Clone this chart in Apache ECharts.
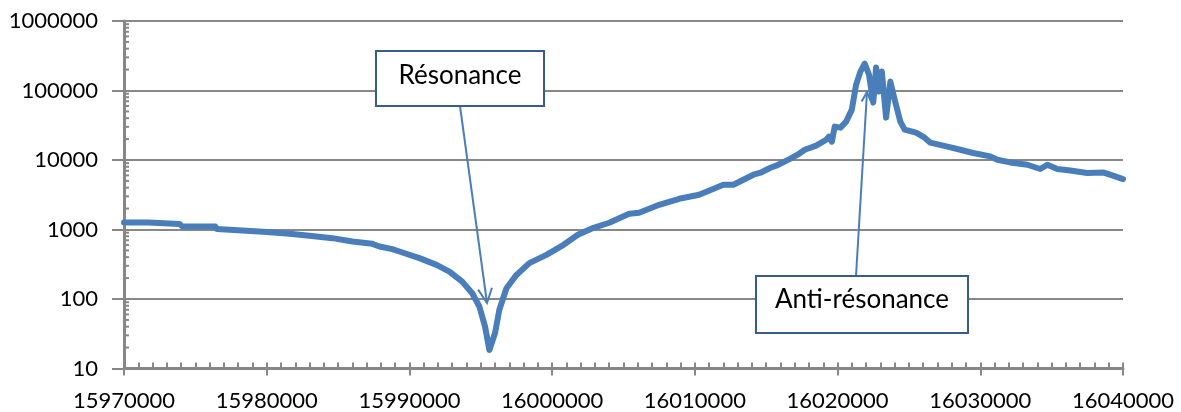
<!DOCTYPE html>
<html><head><meta charset="utf-8">
<script src="https://cdn.jsdelivr.net/npm/echarts@6/dist/echarts.min.js"></script>
<style>html,body{margin:0;padding:0;background:#fff}#c{width:1181px;height:412px}</style>
</head><body><div id="c"></div>
<script>
// Frequency (Hz) and measured magnitude (log scale)
const frequencies = [
  15970000, 15971700, 15971800, 15973900, 15974100, 15976400, 15976500, 15978600, 15980000, 15981600,
  15983000, 15984600, 15986000, 15987400, 15987900, 15988800, 15989300, 15990700, 15991900, 15992800,
  15993700, 15994400, 15994900, 15995300, 15995600, 15996000, 15996300, 15996800, 15997500, 15998400,
  15999600, 16000800, 16001800, 16002900, 16004000, 16005400, 16006100, 16007500, 16008900, 16010300,
  16012000, 16012700, 16014100, 16014600, 16015300, 16015700, 16016700, 16017200, 16017700, 16018500,
  16019200, 16019400, 16019600, 16019800, 16020200, 16020600, 16021000, 16021300, 16021600, 16021900,
  16022200, 16022500, 16022700, 16022900, 16023100, 16023400, 16023700, 16024000, 16024400, 16024700,
  16025500, 16026100, 16026500, 16027700, 16028600, 16029500, 16030700, 16031200, 16032100, 16033300,
  16034200, 16034700, 16035400, 16036300, 16037500, 16038600, 16039300, 16040000
];
const magnitudes = [
  1260, 1260, 1200, 1200, 1100, 1100, 1020, 960, 917, 867,
  811, 751, 671, 622, 569, 522, 482, 387, 310, 248,
  178, 121, 78, 40, 18.5, 32.5, 70, 143, 222, 328,
  432, 602, 839, 1057, 1250, 1683, 1741, 2270, 2768, 3162,
  4406, 4400, 6140, 6560, 7745, 8280, 10450, 11910, 14060, 16070,
  19590, 21680, 18350, 30200, 29190, 35650, 53090, 121600, 187100, 244300,
  169400, 66970, 213800, 96400, 187100, 40700, 134400, 73960, 35650, 27340,
  24740, 20960, 17750, 15560, 14060, 12620, 11270, 10090, 9230, 8550,
  7420, 8550, 7420, 7080, 6500, 6630, 5940, 5320
];
const xTickValues = [15970000, 15980000, 15990000, 16000000, 16010000, 16020000, 16030000, 16040000];
const yTickValues = [10, 100, 1000, 10000, 100000, 1000000];
const yMinorMultipliers = [2, 3, 4, 5, 6, 7, 8, 9];
const annotationLabels = ['Résonance', 'Anti-résonance'];

const X_MIN = xTickValues[0], X_MAX = xTickValues[xTickValues.length - 1];
const X_STEP = xTickValues[1] - xTickValues[0];
const Y_MIN = yTickValues[0], Y_MAX = yTickValues[yTickValues.length - 1];

const lineData = frequencies.map((f, i) => [f, magnitudes[i]]);
const minorTickData = [];
yTickValues.slice(0, -1).forEach(d => yMinorMultipliers.forEach(m => minorTickData.push([X_MIN, d * m])));

const GRAY = '#878787';
const FONT = 'Lato';

function arrow(x1, y1, x2, y2, wing) {
  const a = Math.atan2(y2 - y1, x2 - x1);
  const sp = 0.45;
  const w1 = [x2 - wing * Math.cos(a - sp), y2 - wing * Math.sin(a - sp)];
  const w2 = [x2 - wing * Math.cos(a + sp), y2 - wing * Math.sin(a + sp)];
  return [
    { type: 'line', z: 100, shape: { x1, y1, x2, y2 }, style: { stroke: '#4a7ebb', lineWidth: 2 } },
    { type: 'polyline', z: 100, shape: { points: [w1, [x2, y2], w2] }, style: { stroke: '#4a7ebb', lineWidth: 2, fill: null } }
  ];
}
function box(x, y, w, h, text, ty) {
  return [
    { type: 'rect', z: 101, shape: { x, y, width: w, height: h }, style: { fill: '#fff', stroke: '#385d8a', lineWidth: 2 } },
    { type: 'text', z: 102, x: x + w / 2, y: ty, style: { text, fontFamily: FONT, fontSize: 26, fill: '#000', align: 'center', verticalAlign: 'middle' } }
  ];
}

const chart = echarts.init(document.getElementById('c'), null, { renderer: 'canvas' });
chart.setOption({
  animation: false,
  backgroundColor: '#fff',
  grid: { left: 124, right: 58, top: 21, bottom: 43.5, containLabel: false },
  xAxis: [{
    type: 'value', position: 'bottom', min: X_MIN, max: X_MAX, interval: X_STEP,
    axisLine: { show: true, lineStyle: { color: GRAY, width: 3 } },
    axisTick: { show: true, inside: true, length: 6, lineStyle: { color: GRAY, width: 2 } },
    minorTick: { show: true, splitNumber: 10, length: 6, lineStyle: { color: GRAY, width: 2 } },
    splitLine: { show: false },
    axisLabel: { show: true, margin: 21, color: '#000', fontFamily: FONT, fontSize: 22, formatter: v => String(Math.round(v)) }
  }, {
    type: 'value', position: 'bottom', min: X_MIN, max: X_MAX, interval: X_STEP,
    axisLine: { show: false },
    axisTick: { show: true, inside: false, length: 7, lineStyle: { color: GRAY, width: 2 } },
    axisLabel: { show: false }, splitLine: { show: false }
  }],
  yAxis: [{
    type: 'log', logBase: 10, min: Y_MIN, max: Y_MAX, splitNumber: 5,
    axisLine: { show: true, lineStyle: { color: GRAY, width: 3 } },
    axisTick: { show: true, inside: false, length: 12, lineStyle: { color: GRAY, width: 2 } },
    minorTick: { show: false },
    splitLine: { show: true, lineStyle: { color: GRAY, width: 2 } },
    axisLabel: { show: true, margin: 26, color: '#000', fontFamily: FONT, fontSize: 22, formatter: v => String(Math.round(v)) }
  }],
  series: [{
    type: 'custom', xAxisIndex: 0, yAxisIndex: 0, silent: true, clip: false, z: 3,
    data: minorTickData,
    renderItem: (params, api) => {
      const p = api.coord([api.value(0), api.value(1)]);
      return { type: 'line', shape: { x1: p[0], y1: p[1], x2: p[0] + 5, y2: p[1] }, style: { stroke: GRAY, lineWidth: 2 } };
    }
  }, {
    type: 'line', xAxisIndex: 0, yAxisIndex: 0, data: lineData, showSymbol: false, symbol: 'none',
    smooth: false, z: 5, lineStyle: { color: '#4a7ebb', width: 6, join: 'round', cap: 'round' }
  }],
  graphic: [
    ...arrow(460, 106, 487, 303, 16),
    ...box(376, 51, 168, 55, annotationLabels[0], 76),
    ...arrow(856, 276, 867, 92, 11),
    ...box(756, 276, 212, 57, annotationLabels[1], 300)
  ]
});
</script></body></html>
